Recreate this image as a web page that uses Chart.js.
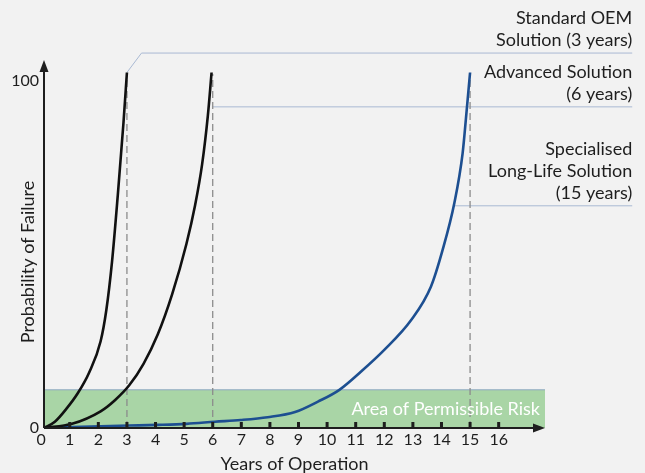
<!DOCTYPE html>
<html lang="en">
<head>
    <meta charset="UTF-8">
    <title>Probability of Failure</title>
    <script src="https://cdn.jsdelivr.net/npm/chart.js"></script>
    <style>
        body { margin: 0; background: #f2f2f2; }
        #wrap { width: 645px; height: 473px; }
    </style>
</head>
<body>
    <div id="wrap"><canvas id="failureChart"></canvas></div>
    <script>
        // curve readings (years, probability of failure); the y axis sits at year 0.1
        const oemYears = [0.1, 0.48, 0.88, 1.28, 1.68, 2.08, 2.28, 2.48, 2.68, 2.88, 3.0];
        const oemFail = [0, 1.8, 5.5, 10, 16, 25, 34, 48, 67, 88, 102.4];

        const advYears = [0.1, 1.08, 2.08, 2.58, 3.08, 3.58, 4.08, 4.58, 5.08, 5.38, 5.63, 5.83, 5.96];
        const advFail = [0, 1.2, 4.8, 8, 12.3, 18.5, 27, 38.5, 53, 64, 76, 90, 102.4];

        const longYears = [0.1, 1.08, 2.08, 3.08, 4.08, 5.08, 6.08, 6.98, 7.92, 8.88, 9.68, 10.43, 11.18, 12.0, 12.94, 13.63, 14.04, 14.45, 14.74, 14.87, 15.0];
        const longFail = [0, 0.3, 0.5, 0.7, 0.9, 1.2, 1.8, 2.3, 3.1, 4.6, 7.6, 11, 16.2, 22.5, 31.1, 40.7, 51.3, 64.8, 79.2, 90.5, 102.4];

        const lifetimes = [3, 6, 15];
        const xTicks = [0, 1, 2, 3, 4, 5, 6, 7, 8, 9, 10, 11, 12, 13, 14, 15, 16];
        const yTicks = [0, 100];
        const riskLimit = 11;

        // label boxes on the right and the level of their leader lines
        const labelLines = [
            ['Standard OEM', 'Solution (3 years)'],
            ['Advanced Solution', '(6 years)'],
            ['Specialised', 'Long-Life Solution', '(15 years)']
        ];
        const leaderLevels = [108, 92.5, 64];
        const leaderStarts = [[3.0, 102.4, 3.51], [6.0], [14.44]];
        const labelEdge = 20.67;

        const X_MIN = 0.1, X_MAX = 17.62, Y_MAX = 106;
        const FONT = 'Lato';
        const INK = '#1e1e1e';
        const LEADER = '#a9b9d3';

        const pts = (xs, ys) => xs.map((x, i) => ({ x: x, y: ys[i] }));

        const curve = (data, color) => ({
            data: data, borderColor: color, borderWidth: 2.6,
            pointRadius: 0, cubicInterpolationMode: 'monotone', fill: false
        });

        const datasets = [
            curve(pts(oemYears, oemFail), '#111111'),
            curve(pts(advYears, advFail), '#111111'),
            curve(pts(longYears, longFail), '#1d4f91')
        ];

        lifetimes.forEach(y => datasets.push({
            data: [{ x: y, y: 0 }, { x: y, y: 102 }],
            borderColor: '#8c8c8c', borderWidth: 1.3, borderDash: [7, 4],
            pointRadius: 0, fill: false
        }));

        // leader lines to the labels
        leaderLevels.forEach((lvl, i) => {
            const s = leaderStarts[i];
            const line = s.length === 3
                ? [{ x: s[0], y: s[1] }, { x: s[2], y: lvl }, { x: labelEdge, y: lvl }]
                : [{ x: s[0], y: lvl }, { x: labelEdge, y: lvl }];
            datasets.push({
                data: line, borderColor: LEADER, borderWidth: 1,
                pointRadius: 0, fill: false, tension: 0, clip: false
            });
        });

        // permissible risk band
        datasets.push({
            data: [{ x: X_MIN, y: riskLimit }, { x: X_MAX, y: riskLimit }],
            borderColor: '#8fa9c4', borderWidth: 1, pointRadius: 0,
            backgroundColor: 'rgb(169, 213, 166)', fill: 'origin'
        });

        const decor = {
            id: 'decor',
            afterDatasetsDraw(chart) {
                const { ctx, chartArea: a, scales: { x, y } } = chart;
                const x0 = a.left, y0 = y.getPixelForValue(0);
                ctx.save();

                // band caption
                ctx.fillStyle = '#ffffff';
                ctx.font = '18px ' + FONT;
                ctx.textAlign = 'right';
                ctx.textBaseline = 'middle';
                ctx.fillText('Area of Permissible Risk', a.right - 5, y.getPixelForValue(riskLimit / 2));

                // axes with arrows
                ctx.strokeStyle = INK;
                ctx.fillStyle = INK;
                ctx.lineWidth = 2;
                ctx.beginPath();
                ctx.moveTo(x0, y0); ctx.lineTo(x0, a.top + 8);
                ctx.moveTo(x0, y0); ctx.lineTo(a.right - 8, y0);
                ctx.stroke();
                ctx.beginPath();
                ctx.moveTo(x0, a.top); ctx.lineTo(x0 - 4.5, a.top + 12); ctx.lineTo(x0 + 4.5, a.top + 12);
                ctx.closePath(); ctx.fill();
                ctx.beginPath();
                ctx.moveTo(a.right, y0); ctx.lineTo(a.right - 12, y0 - 4.5); ctx.lineTo(a.right - 12, y0 + 4.5);
                ctx.closePath(); ctx.fill();

                // tick marks above the axis
                xTicks.slice(1).forEach(t => {
                    const px = x.getPixelForValue(t);
                    ctx.fillRect(px - 1.5, y0 - 6, 3, 6);
                });

                // right-hand labels
                ctx.fillStyle = INK;
                ctx.font = '18px ' + FONT;
                const rx = x.getPixelForValue(labelEdge);
                labelLines.forEach((lines, i) => {
                    const base = y.getPixelForValue(leaderLevels[i]) - 12.5;
                    lines.slice().reverse().forEach((txt, j) => {
                        ctx.fillText(txt, rx, base - j * 22);
                    });
                });

                // y axis title
                ctx.translate(28, 262);
                ctx.rotate(-Math.PI / 2);
                ctx.textAlign = 'center';
                ctx.fillText('Probability of Failure', 0, 0);
                ctx.restore();
            }
        };

        new Chart(document.getElementById('failureChart'), {
            type: 'line',
            data: { datasets: datasets },
            options: {
                responsive: true,
                maintainAspectRatio: false,
                animation: false,
                layout: { padding: { top: 60, right: 100, left: 0, bottom: 0 } },
                plugins: { legend: { display: false }, tooltip: { enabled: false } },
                scales: {
                    x: {
                        type: 'linear', min: X_MIN, max: X_MAX,
                        grid: { display: false, drawTicks: false },
                        border: { display: false },
                        afterBuildTicks: s => { s.ticks = xTicks.map(v => ({ value: v })); },
                        afterFit: s => { s.height = 45; },
                        ticks: { color: INK, padding: 2, font: { family: FONT, size: 16 }, maxRotation: 0 },
                        title: {
                            display: true, text: 'Years of Operation', color: INK,
                            font: { family: FONT, size: 18, lineHeight: 1 }, padding: 0
                        }
                    },
                    y: {
                        type: 'linear', min: 0, max: Y_MAX,
                        grid: { display: false, drawTicks: false },
                        border: { display: false },
                        afterBuildTicks: s => { s.ticks = yTicks.map(v => ({ value: v })); },
                        afterFit: s => { s.width = 44; },
                        ticks: { color: INK, padding: 5, font: { family: FONT, size: 16 } }
                    }
                }
            },
            plugins: [decor]
        });
    </script>
</body>
</html>
